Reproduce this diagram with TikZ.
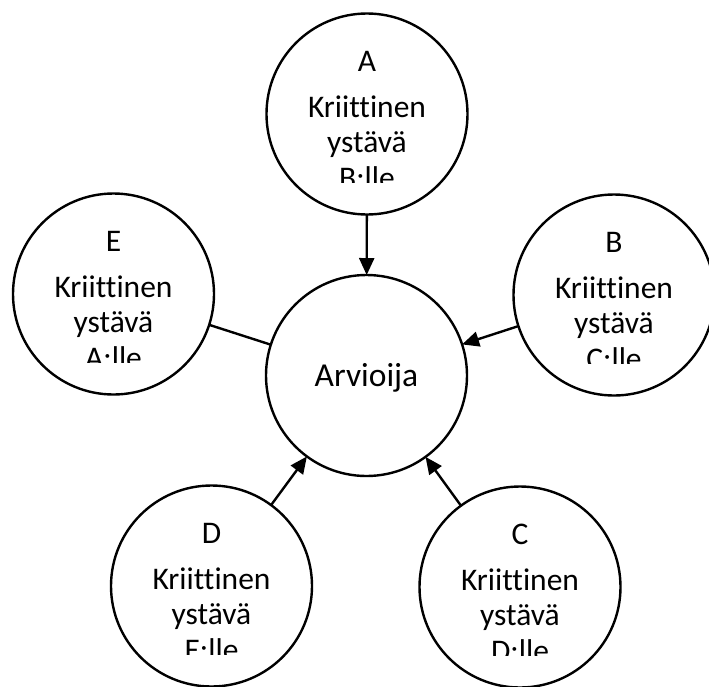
\documentclass[tikz,border=0pt]{standalone}
\usepackage{fontspec}
\setmainfont{Carlito}[Ligatures={NoCommon}]
\usetikzlibrary{arrows.meta}
\tikzset{
  friend/.style={circle,draw,line width=2.4pt,minimum size=201pt,inner sep=0pt,outer sep=0pt},
  lbl/.style={anchor=base,inner sep=0pt,font=\fontsize{31.5}{31.5}\selectfont},
  link/.style={line width=2.4pt},
  arr/.style={line width=2.4pt,-{Triangle[length=17pt,width=15pt]}}
}
\newcommand{\friendtext}[5]{%
  \begin{scope}
    \clip (#1-96,#2-96) rectangle (#1+96,#2+68);
    \node[lbl] (#3-l1) at (#1,#2-43) {#4};
    \node[lbl] (#3-l2) at (#1,#2+3) {Kriittinen};
    \node[lbl] (#3-l3) at (#1,#2+38.5) {ystävä};
    \node[lbl] (#3-l4) at (#1,#2+74) {#5:lle};
  \end{scope}}
\begin{document}
\begin{tikzpicture}[x=1pt,y=-1pt]
\useasboundingbox[fill=white] (0,0) rectangle (709,686);
\node[friend] (M) at (366.5,375.5) {};
\node[anchor=base,inner sep=0pt,font=\fontsize{33.5}{33.5}\selectfont] (Mt) at (366.5,386) {Arvioija};
\node[friend] (A) at (367,114) {};
\node[friend] (E) at (113.5,294) {};
\node[friend] (B) at (614,295) {};
\node[friend] (D) at (211.5,586) {};
\node[friend] (C) at (520,587) {};
\friendtext{367}{114}{a}{A}{B}
\friendtext{113.5}{294}{e}{E}{A}
\friendtext{614}{295}{b}{B}{C}
\friendtext{211.5}{586}{d}{D}{E}
\friendtext{520}{587}{c}{C}{D}
\draw[arr] (A) -- (M);
\draw[link] (E) -- (M);
\draw[arr] (B) -- (M);
\draw[arr] (D) -- (M);
\draw[arr] (C) -- (M);
\end{tikzpicture}
\end{document}
